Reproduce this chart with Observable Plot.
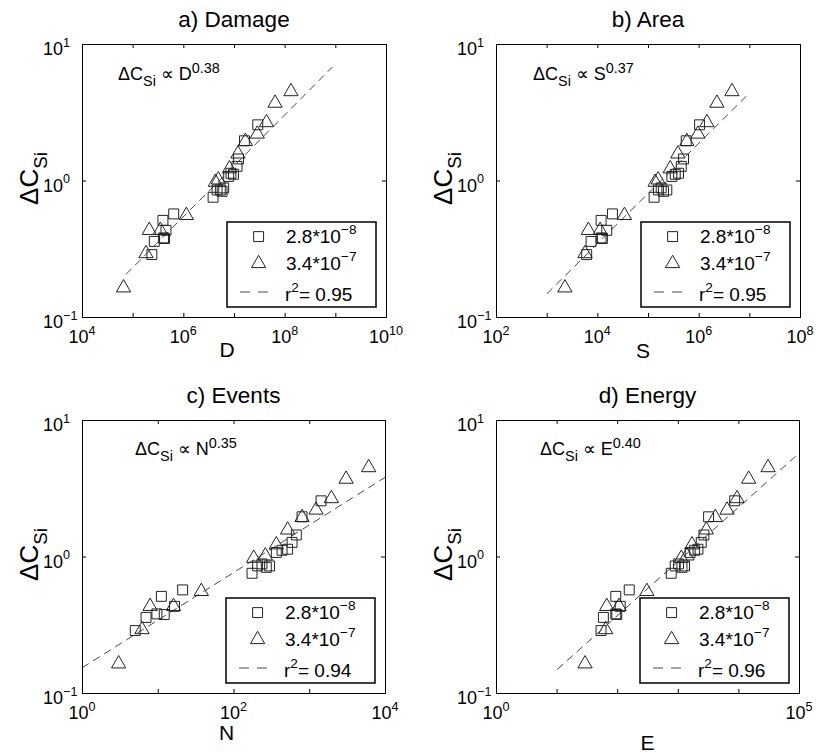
<!DOCTYPE html>
<html><head><meta charset="utf-8">
<script src="https://cdn.jsdelivr.net/npm/d3@7"></script>
<script src="https://cdn.jsdelivr.net/npm/@observablehq/plot@0.6"></script>
<style>
body{margin:0;background:#fff;}
#wrap{position:relative;width:816px;height:754px;overflow:hidden;background:#fff;}
#wrap svg{position:absolute;}
</style></head><body><div id="wrap"></div>
<script>
// ---- data: ΔC_Si values shared by all panels (same samples) ----
const triC = [0.165,0.294,0.435,0.435,0.56,0.98,1.02,1.23,1.58,1.95,2.21,2.68,3.72,4.52];
const sqC  = [0.289,0.361,0.383,0.379,0.435,0.515,0.574,0.76,0.86,0.89,0.84,0.86,1.08,1.12,1.14,1.28,1.45,1.97,2.58];

// a) Damage D
const triD = [6.46e4,1.79e5,2.08e5,3.44e5,1.12e6,4.19e6,4.79e6,7.94e6,1.17e7,1.64e7,2.82e7,4.27e7,6.31e7,1.30e8];
const sqD  = [2.34e5,2.61e5,3.98e5,4.17e5,4.44e5,3.87e5,6.31e5,3.78e6,4.53e6,6.12e6,5.69e6,5.25e6,7.67e6,9.55e6,8.51e6,1.12e7,1.20e7,1.57e7,2.88e7];
// b) Area S
const triS = [2.24e3,5.58e3,6.50e3,1.11e4,3.35e4,1.35e5,1.55e5,2.68e5,3.80e5,5.71e5,9.44e5,1.42e6,2.24e6,4.44e6];
const sqS  = [6.03e3,7.35e3,1.16e4,1.23e4,1.50e4,1.16e4,1.94e4,1.29e5,1.57e5,1.78e5,1.98e5,2.30e5,2.89e5,3.37e5,3.92e5,4.43e5,4.92e5,5.55e5,1.02e6];
// c) Events N
const triN = [3.0,6.1,7.8,15.9,37,182,259,362,510,791,1210,1930,3020,6000];
const sqN  = [4.97,6.9,9.6,12.0,16.4,11.0,21,173,205,234,267,295,362,431,510,584,665,791,1410];
// d) Energy E
const triE = [28.9,63.5,65.9,105,303,1120,1390,1680,2900,4080,6370,9310,14500,30300];
const sqE  = [53.1,58.1,92.9,96.6,110,92.9,155,764,889,1010,1150,1270,1570,1860,2110,2390,2650,3160,8510];

// dashed fit lines (end points)
const fitD = [[7.3e4,0.208],[8.5e8,6.82]];
const fitS = [[1.0e3,0.150],[9.8e6,4.40]];
const fitN = [[1,0.155],[1e4,3.85]];
const fitE = [[10.2,0.151],[1e5,5.8]];

// text
const titles = ["a) Damage","b) Area","c) Events","d) Energy"];
const xLabels = ["D","S","N","E"];
const exponents = ["0.38","0.37","0.35","0.40"];
const r2 = ["0.95","0.95","0.94","0.96"];
const seriesNames = [["2.8*10","−8"],["3.4*10","−7"]];
const xDomains = [[1e4,1e10],[1e2,1e8],[1,1e4],[1,1e5]];
const xLabelExps = [[4,6,8,10],[2,4,6,8],[0,2,4],[0,5]];
const yLabelExps = [-1,0,1];

// ---- layout ----
const FONT = '"Liberation Sans", Arial, Helvetica, sans-serif';
const W = 408, H = 377;
const layout = [
  {left:0,   top:0,   ml:82, mr:22, mt:44, mb:60, ann:[36,36], xlab:[-7,40]},
  {left:408, top:0,   ml:88, mr:16, mt:44, mb:60, ann:[37,36], xlab:[-5,41]},
  {left:0,   top:377, ml:82, mr:23, mt:43, mb:61, ann:[53,35], xlab:[-7,47]},
  {left:408, top:377, ml:88, mr:17, mt:43, mb:61, ann:[44,35], xlab:[0,57]}
];
const triX = [triD,triS,triN,triE], sqX = [sqD,sqS,sqN,sqE], fits = [fitD,fitS,fitN,fitE];

function rich(g, x, y, segs, size, opts = {}) {
  const small = opts.small || 0.72;
  const t = g.append("text").attr("x", x).attr("y", y)
    .attr("font-size", size).attr("font-family", FONT).attr("fill", "#000")
    .attr("text-anchor", opts.anchor || "start");
  if (opts.rotate) t.attr("transform", `rotate(-90 ${x} ${y})`);
  let cur = 0;
  for (const s of segs) {
    const target = s.sup ? -size * (opts.supUp || 0.45) : s.sub ? size * 0.33 : 0;
    const sp = t.append("tspan").attr("dy", target - cur).text(s.t);
    if (s.sup || s.sub) sp.attr("font-size", size * small);
    cur = target;
  }
  return t;
}

const wrap = document.getElementById("wrap");
const R_SQ = 5.6, R_TRI = 5.3, MK = "#222";

layout.forEach((L, i) => {
  const fw = W - L.ml - L.mr, fh = H - L.mt - L.mb;
  const [e0, e1] = xDomains[i].map(Math.log10);
  const xTicks = d3.range(e0, e1 + 1).map(e => 10 ** e);
  const yTicks = [0.1, 1, 10];
  const tri = triX[i].map((x, k) => ({x, y: triC[k]}));
  const sq = sqX[i].map((x, k) => ({x, y: sqC[k]}));
  const fit = fits[i].map(([x, y]) => ({x, y}));
  const TS = 4;
  const plot = Plot.plot({
    width: W, height: H,
    marginLeft: L.ml, marginRight: L.mr, marginTop: L.mt, marginBottom: L.mb,
    style: {fontFamily: FONT, background: "transparent", overflow: "visible"},
    x: {type: "log", domain: xDomains[i], axis: null},
    y: {type: "log", domain: [0.1, 10], axis: null},
    marks: [
      Plot.tickX(xTicks, {x: d => d, insetTop: fh - TS, stroke: "#000", strokeWidth: 1}),
      Plot.tickX(xTicks, {x: d => d, insetBottom: fh - TS, stroke: "#000", strokeWidth: 1}),
      Plot.tickY(yTicks, {y: d => d, insetRight: fw - TS, stroke: "#000", strokeWidth: 1}),
      Plot.tickY(yTicks, {y: d => d, insetLeft: fw - TS, stroke: "#000", strokeWidth: 1}),
      Plot.line(fit, {x: "x", y: "y", stroke: "#333", strokeWidth: 0.9, strokeDasharray: "7,6"}),
      Plot.dot(sq, {x: "x", y: "y", symbol: "square", r: R_SQ, stroke: MK, strokeWidth: 1, fill: "none"}),
      Plot.dot(tri, {x: "x", y: "y", symbol: "triangle", r: R_TRI, stroke: MK, strokeWidth: 1, fill: "none"}),
      Plot.frame({stroke: "#000", strokeWidth: 1})
    ]
  });
  plot.style.left = L.left + "px";
  plot.style.top = L.top + "px";
  wrap.appendChild(plot);

  const sx = plot.scale("x"), sy = plot.scale("y");
  const g = d3.select(plot).append("g");
  const fL = L.ml, fR = W - L.mr, fT = L.mt, fB = H - L.mb;

  // title
  g.append("text").attr("x", (fL + fR) / 2).attr("y", fT - 17).attr("text-anchor", "middle")
    .attr("font-family", FONT).attr("font-size", 22.5).attr("fill", "#000").text(titles[i]);

  // x tick labels
  xLabelExps[i].forEach(e => {
    rich(g, sx.apply(10 ** e), fB + 26, [{t: "10"}, {t: String(e).replace("-", "−"), sup: true}], 18, {anchor: "middle", small: 0.7});
  });
  // y tick labels
  yLabelExps.forEach(e => {
    rich(g, fL - 39, sy.apply(10 ** e) + 11, [{t: "10"}, {t: String(e).replace("-", "−"), sup: true}], 18, {small: 0.7});
  });

  // axis labels
  g.append("text").attr("x", (fL + fR) / 2 + L.xlab[0]).attr("y", fB + L.xlab[1]).attr("text-anchor", "middle")
    .attr("font-family", FONT).attr("font-size", 21).attr("fill", "#000").text(xLabels[i]);
  rich(g, fL - 44, (fT + fB) / 2 - 2, [{t: "ΔC"}, {t: "Si", sub: true}], 26, {anchor: "middle", rotate: true});

  // power-law annotation
  rich(g, fL + L.ann[0], fT + L.ann[1], [{t: "ΔC"}, {t: "Si", sub: true}, {t: " ∝ "}, {t: xLabels[i]}, {t: exponents[i], sup: true}], 18, {small: 0.8, supUp: 0.4});

  // legend
  const bw = 149, bh = 85, bx = fR - 10 - bw, by = fB - 10 - bh;
  g.append("rect").attr("x", bx).attr("y", by).attr("width", bw).attr("height", bh)
    .attr("fill", "#fff").attr("stroke", "#000").attr("stroke-width", 1.5);
  g.append("path").attr("d", d3.symbol(d3.symbolSquare, Math.PI * R_SQ * R_SQ)())
    .attr("transform", `translate(${bx + 31.6},${by + 14.6})`).attr("fill", "none").attr("stroke", MK);
  g.append("path").attr("d", d3.symbol(d3.symbolTriangle, Math.PI * R_TRI * R_TRI)())
    .attr("transform", `translate(${bx + 31.6},${by + 41.5})`).attr("fill", "none").attr("stroke", MK);
  g.append("line").attr("x1", bx + 13).attr("x2", bx + 42).attr("y1", by + 70).attr("y2", by + 70)
    .attr("stroke", "#333").attr("stroke-width", 0.9).attr("stroke-dasharray", "10,8");
  rich(g, bx + 59, by + 21, [{t: seriesNames[0][0]}, {t: seriesNames[0][1], sup: true}], 19, {small: 0.72});
  rich(g, bx + 59, by + 47.5, [{t: seriesNames[1][0]}, {t: seriesNames[1][1], sup: true}], 19, {small: 0.72});
  rich(g, bx + 58, by + 78.5, [{t: "r"}, {t: "2", sup: true}, {t: "= " + r2[i]}], 19, {small: 0.72});
});
</script></body></html>
